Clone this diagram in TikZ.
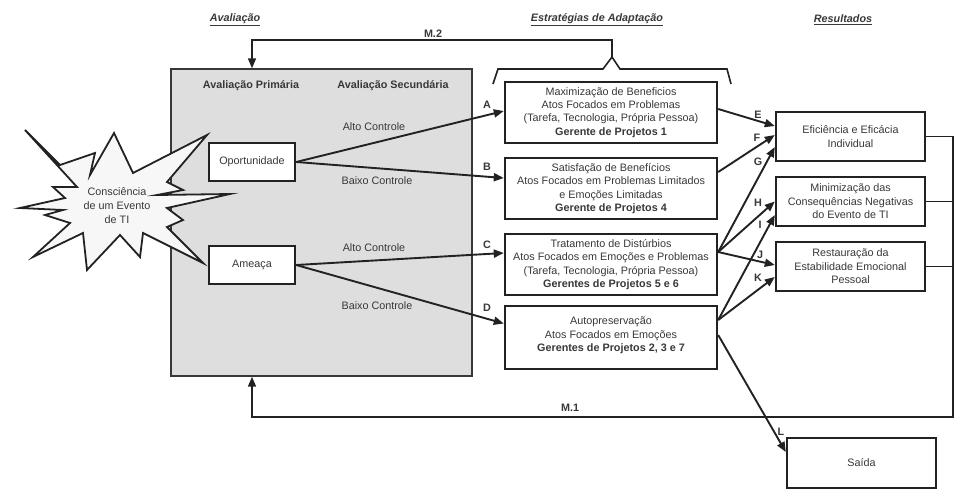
\documentclass[tikz,border=0pt]{standalone}
\usepackage{fontspec}
\setmainfont{Liberation Sans}
\usetikzlibrary{arrows.meta}
\definecolor{ink}{HTML}{222222}
\definecolor{panel}{HTML}{DEDEDE}
\definecolor{burst}{HTML}{F7F7F7}
\begin{document}
\begin{tikzpicture}[x=1pt,y=-1pt,
    every node/.style={text=ink!90, font=\fontsize{10.8}{13.4}\selectfont},
    box/.style={draw=ink, line width=2.4pt, fill=white, align=center, inner sep=0pt},
    strat/.style={box, minimum width=212pt, minimum height=61pt},
    result/.style={box, minimum width=149pt, minimum height=49pt},
    evalbox/.style={box, minimum width=86pt, minimum height=38pt},
    tip/.style={-{Triangle[length=10pt,width=8pt]}},
    flow/.style={draw=ink, line width=1.9pt, tip},
    fb/.style={draw=ink, line width=1.6pt},
    tag/.style={font=\fontsize{10.8}{13}\selectfont\bfseries},
    head/.style={font=\fontsize{10.8}{13}\selectfont\bfseries\itshape}]
    \useasboundingbox (0,0) rectangle (972,498);

    \node[head] (hAval) at (235,20) {\underline{Avaliação}};
    \node[head] (hEstr) at (597,20) {\underline{Estratégias de Adaptação}};
    \node[head] (hRes) at (843,20) {\underline{Resultados}};

    % gray panel
    \node[draw=ink!90, line width=1.4pt, fill=panel, minimum width=301pt,
          minimum height=307pt, inner sep=0pt] (aval) at (321.5,222.5) {};
    \node[tag] (prim) at (251,86) {Avaliação Primária};
    \node[tag] (sec) at (393,86) {Avaliação Secundária};

    % burst
    \draw[ink, line width=1.8pt, fill=burst, line join=miter, miter limit=20]
        (25,130) -- (60,165) -- (95,153) -- (90,175) -- (114,133) -- (133,173)
        -- (207,135) -- (167,182) -- (183,190) -- (157,195) -- (230,194)
        -- (167,208) -- (183,220) -- (167,227) -- (203,263) -- (143,233)
        -- (140,257) -- (120,235) -- (87,270) -- (83,233) -- (33,257)
        -- (70,223) -- (45,215) -- (63,210) -- (20,208) -- (65,198)
        -- (53,187) -- (77,187) -- cycle;
    \node[align=center, font=\fontsize{10.8}{14}\selectfont] (event) at (117,206) {Consciência\\de um Evento\\de TI};

    \node[evalbox] (opp) at (252,162) {Oportunidade};
    \node[evalbox] (thr) at (252,265) {Ameaça};

    \node (altoA) at (374,127) {Alto Controle};
    \node (baixoA) at (377,181) {Baixo Controle};
    \node (altoB) at (374,248) {Alto Controle};
    \node (baixoB) at (377,306) {Baixo Controle};

    % strategies
    \node[strat] (sA) at (611,112.5) {Maximização de Beneficios\\Atos Focados em Problemas\\(Tarefa, Tecnologia, Própria Pessoa)\\\textbf{Gerente de Projetos 1}};
    \node[strat] (sB) at (611,188.5) {Satisfação de Benefícios\\Atos Focados em Problemas Limitados\\e Emoções Limitadas\\\textbf{Gerente de Projetos 4}};
    \node[strat] (sC) at (611,264.5) {Tratamento de Distúrbios\\Atos Focados em Emoções e Problemas\\(Tarefa, Tecnologia, Própria Pessoa)\\\textbf{Gerentes de Projetos 5 e 6}};
    \node[strat, minimum height=63pt] (sD) at (611,337.5) {Autopreservação\\Atos Focados em Emoções\\\textbf{Gerentes de Projetos 2, 3 e 7}\\[-7pt]\mbox{}};

    % results
    \node[result] (rEff) at (850.5,136.5) {Eficiência e Eficácia\\Individual};
    \node[result] (rMin) at (850.5,201.5) {Minimização das\\Consequências Negativas\\do Evento de TI};
    \node[result] (rRest) at (850.5,266.5) {Restauração da\\Estabilidade Emocional\\Pessoal};
    \node[result, minimum height=50pt] (rOut) at (861.5,463) {Saída};

    % feedback M.2
    \draw[fb, line join=miter] (493,84) -- (498,69) -- (603,69) -- (612,57)
        -- (620,69) -- (727,69) -- (731,84);
    \coordinate (btip) at (612,57);
    \coordinate (m2) at (612,40);
    \draw[fb, tip] (btip) -- (m2) -| (aval.north -| opp);
    \node[tag] (lblM2) at (433,34) {M.2};

    % feedback M.1
    \coordinate (m1) at (953,417);
    \draw[fb, tip] (rEff.east) -| (m1) -| (aval.south -| opp);
    \draw[fb] (rMin.east) -- (rMin.east -| m1);
    \draw[fb] (rRest.east) -- (rRest.east -| m1);
    \node[tag] (lblM1) at (570,408) {M.1};

    % appraisal to strategies
    \draw[flow] (opp.east) -- ([yshift=1.5pt]sA.west);
    \draw[flow] (opp.east) -- ([yshift=10.5pt]sB.west);
    \draw[flow] (thr.east) -- ([yshift=11.5pt]sC.west);
    \draw[flow] (thr.east) -- ([yshift=14pt]sD.west);

    % strategies to results
    \coordinate (cOut) at ([yshift=12.5pt]sC.east);
    \coordinate (dOut) at ([yshift=17.5pt]sD.east);
    \draw[flow] ([yshift=3.5pt]sA.east) -- ([yshift=10.5pt]rEff.west);   % E
    \draw[flow] ([yshift=16.5pt]sB.east) -- ([yshift=1.5pt]rEff.west);  % F
    \draw[flow] (cOut) -- ([yshift=-10.5pt]rEff.west);                 % G
    \draw[flow] (cOut) -- (rMin.west);                                 % H
    \draw[flow] (cOut) -- ([yshift=1.5pt]rRest.west);                  % J
    \draw[flow] (dOut) -- ([yshift=-13.5pt]rMin.west);                 % I
    \draw[flow] (dOut) -- ([yshift=-10.5pt]rRest.west);                % K
    \draw[flow] ([yshift=2.5pt]sD.east) -- ([yshift=11pt]rOut.west);   % L

    \node[tag] (lblA) at (487,105) {A};
    \node[tag] (lblB) at (487,167) {B};
    \node[tag] (lblC) at (487,245) {C};
    \node[tag] (lblD) at (487,308) {D};
    \node[tag] (lblE) at (758,115) {E};
    \node[tag] (lblF) at (757,138) {F};
    \node[tag] (lblG) at (758,162) {G};
    \node[tag] (lblH) at (758,203) {H};
    \node[tag] (lblI) at (760,225) {I};
    \node[tag] (lblJ) at (760,255) {J};
    \node[tag] (lblK) at (758,278) {K};
    \node[tag] (lblL) at (781,432) {L};
\end{tikzpicture}
\end{document}
